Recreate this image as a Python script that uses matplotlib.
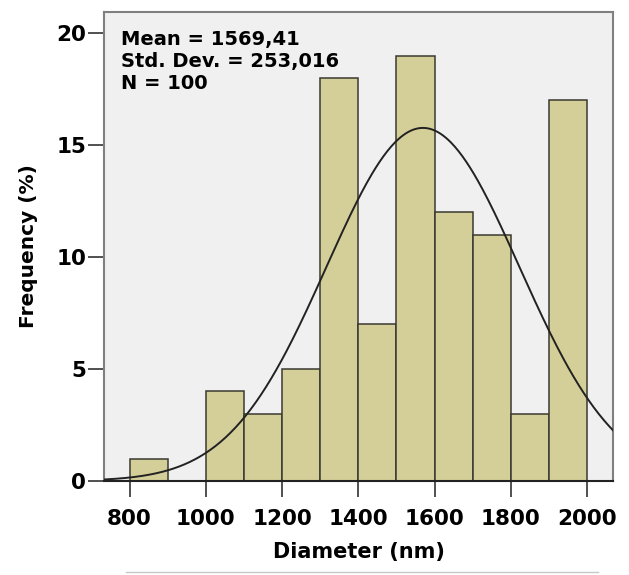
import numpy as np
import matplotlib
matplotlib.use("Agg")
import matplotlib.pyplot as plt

bin_edges = [800, 900, 1000, 1100, 1200, 1300, 1400, 1500, 1600, 1700, 1800, 1900, 2000]
frequencies = [1, 0, 4, 3, 5, 18, 7, 19, 12, 11, 3, 17]
mean_val = 1569.41
sd_val = 253.016
n_val = 100
xticks = [800, 1000, 1200, 1400, 1600, 1800, 2000]
yticks = [0, 5, 10, 15, 20]

plt.rcParams['font.family'] = ['DejaVu Sans']
plt.rcParams['font.weight'] = 'bold'

fig = plt.figure(figsize=(6.29, 5.75), dpi=100)
ax = fig.add_axes([0.1654, 0.1635, 0.8092, 0.8155])
ax.set_facecolor('#f0f0f0')

lefts = bin_edges[:-1]
widths = np.diff(bin_edges)
ax.bar(lefts, frequencies, width=widths, align='edge', color='#d4cf98',
       edgecolor='#3a3a30', linewidth=1.1, zorder=2)

xs = np.linspace(733, 2068, 400)
bw = 100
ys = n_val * bw / (sd_val * np.sqrt(2 * np.pi)) * np.exp(-0.5 * ((xs - mean_val) / sd_val) ** 2)
ax.plot(xs, ys, color='#222222', linewidth=1.4, zorder=3)

ax.set_xlim(733, 2068)
ax.set_ylim(0, 20.94)
ax.set_xticks(xticks)
ax.set_yticks(yticks)
ax.tick_params(axis='both', labelsize=15.5, length=11.5, width=1.2, color='#333333', direction='out')
ax.tick_params(axis='x', pad=9)
ax.tick_params(axis='y', pad=1.5)
for lbl in ax.get_xticklabels() + ax.get_yticklabels():
    lbl.set_fontweight('bold')
for s in ax.spines.values():
    s.set_color('#808080')
    s.set_linewidth(1.5)
ax.spines['bottom'].set_color('#222222')

ax.set_xlabel('Diameter (nm)', fontsize=15, fontweight='bold', labelpad=9)
ax.set_ylabel('Frequency (%)', fontsize=14.5, fontweight='bold', labelpad=13)

ax.text(0.033, 0.962, 'Mean = 1569,41\nStd. Dev. = 253,016\nN = 100',
        transform=ax.transAxes, ha='left', va='top', fontsize=14,
        fontweight='bold', linespacing=1.22, zorder=4)

fig.add_artist(plt.Line2D([0.2, 0.95], [1 - 572 / 575, 1 - 572 / 575],
                          transform=fig.transFigure, color='#c8c8c8', linewidth=1))

fig.savefig('out.png', dpi=100, facecolor='white')
